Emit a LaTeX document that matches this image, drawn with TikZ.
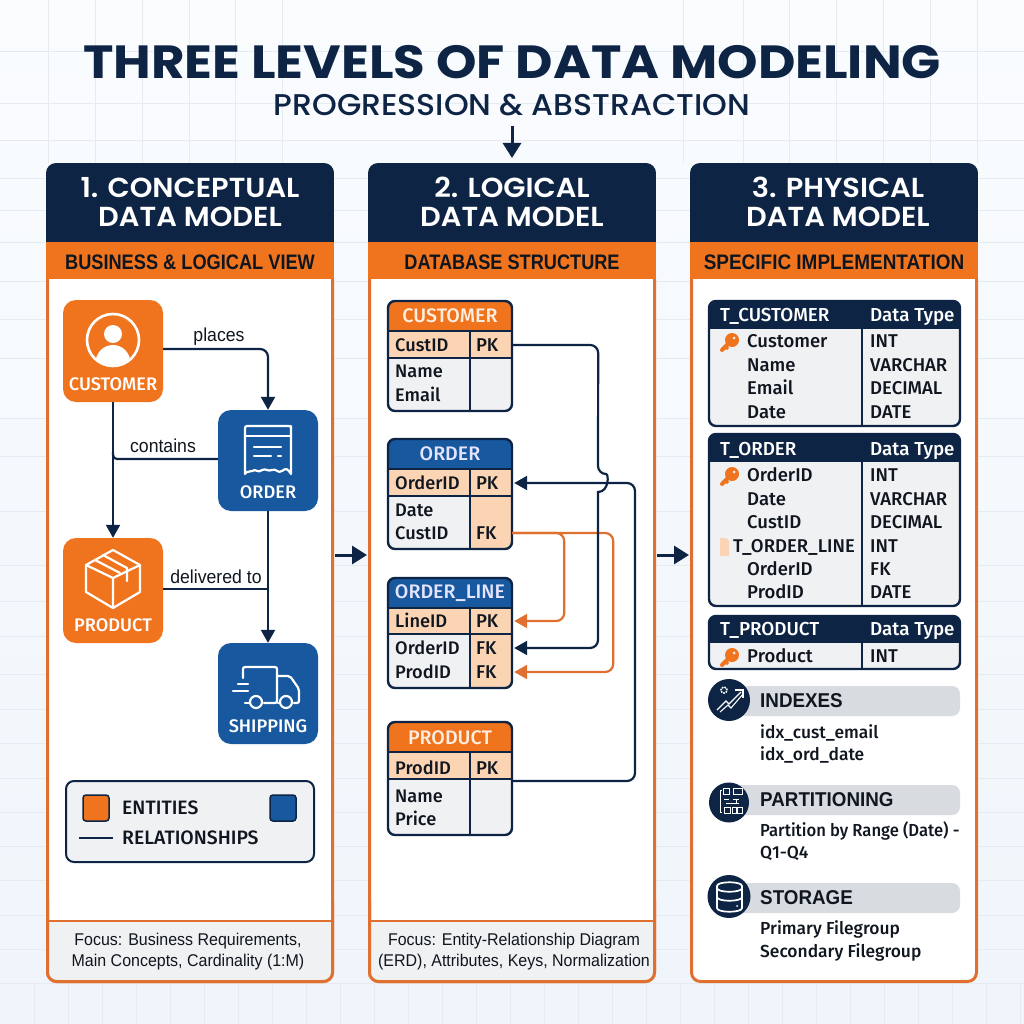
\documentclass[tikz,border=0pt]{standalone}
\usepackage{fontspec}
\setmainfont[FakeStretch=0.94]{Liberation Sans}
\newfontfamily\med[UprightFont=* Medium]{Fira Sans}
\newfontfamily\titlefont[FakeStretch=1.107]{Poppins}
\newfontfamily\subfont[UprightFont=* Medium,FakeStretch=1.05]{Poppins}
\newfontfamily\headfont[UprightFont=* SemiBold,FakeStretch=1.05]{Poppins}
\usetikzlibrary{arrows.meta,calc,shadings}
\definecolor{navy}{HTML}{0D2444}
\definecolor{ora}{HTML}{F0741E}
\definecolor{oraline}{HTML}{E07030}
\definecolor{blu}{HTML}{17589F}
\definecolor{peach}{HTML}{FBD4B4}
\definecolor{paper}{HTML}{F0F1F2}
\definecolor{pill}{HTML}{D8DCE0}
\definecolor{gridc}{HTML}{E6EBF2}
\definecolor{bgtop}{HTML}{FAFCFE}
\definecolor{bgbot}{HTML}{EFF5FB}
\definecolor{ink}{HTML}{10161F}
\newcommand{\kc}[1]{\makebox[36pt][l]{#1}}
\tikzset{
  x=1pt,y=-1pt,
  link/.style={draw=navy,line width=2.2pt,rounded corners=8pt},
  olink/.style={draw=oraline,line width=2.2pt,rounded corners=8pt},
  tip/.style={-{Triangle[length=13pt,width=14pt]}},
  bigarrow/.style={draw=navy,line width=3pt,-{Triangle[length=15pt,width=18pt]}},
  headtxt/.style={text=white,font=\headfont\fontsize{27.5}{29}\selectfont,align=center,inner sep=0pt},
  bandtxt/.style={text=ink,font=\fontsize{21}{22}\selectfont\bfseries,inner sep=0pt},
  foottxt/.style={text=ink,font=\fontsize{17}{21}\selectfont,align=center,inner sep=0pt},
  ent/.style={rounded corners=13pt,minimum width=100pt,inner sep=0pt},
  entlbl/.style={text=white,font=\med\fontsize{18.2}{20}\selectfont,inner sep=0pt},
  icon/.style={draw=white,line width=2.2pt,line join=round,line cap=round},
  fixline/.style={text height=17.6pt,text depth=4pt},
  rel/.style={text=ink,font=\fontsize{18.8}{20}\selectfont,inner sep=0pt,fixline},
  ttl/.style={font=\med\fontsize{19.6}{20}\selectfont,inner sep=0pt},
  cell/.style={text=ink,font=\med\fontsize{18.2}{23.5}\selectfont,inner sep=0pt,anchor=west,fixline},
  keycell/.style={text=ink,font=\med\fontsize{18.5}{20}\selectfont,inner sep=0pt,minimum width=42pt,anchor=center,fixline},
  phead/.style={text=white,font=\med\fontsize{18.8}{20}\selectfont,inner sep=0pt,anchor=west,fixline},
  pcell/.style={text=ink,font=\med\fontsize{18.5}{20}\selectfont,inner sep=0pt,anchor=west,fixline},
  sect/.style={text=ink,font=\fontsize{20}{22}\selectfont\bfseries,inner sep=0pt,anchor=west,fixline},
  sectbody/.style={text=ink,font=\med\fontsize{17.4}{22}\selectfont,inner sep=0pt,anchor=west,fixline},
  lgtxt/.style={text=ink,font=\med\fontsize{19.4}{20}\selectfont,inner sep=0pt,anchor=west},
}
\newcommand{\panelframe}[2]{%
  \fill[white,rounded corners=10pt] (#1,163) rectangle (#1+288,#2);
  \begin{scope}
    \clip[rounded corners=10pt] (#1,163) rectangle (#1+288,#2);
    \fill[navy] (#1,163) rectangle (#1+288,242);
    \fill[ora] (#1,242) rectangle (#1+288,279);
  \end{scope}
  \draw[oraline,line width=3pt,rounded corners=9pt] (#1+1.5,279) -- (#1+1.5,#2-1.5) -- (#1+286.5,#2-1.5) -- (#1+286.5,279);
}
\newcommand{\ltable}[7]{%
  \begin{scope}
    \clip[rounded corners=7pt] (388,#2) rectangle (512,#5);
    \fill[paper] (388,#2) rectangle (512,#5);
    \fill[#6] (388,#2) rectangle (512,#3);
    \fill[peach] (388,#3) rectangle (512,#4);
    \fill[#7] (470,#4) rectangle (512,#5);
  \end{scope}
  \draw[navy,line width=2pt] (388,#3) -- (512,#3) (388,#4) -- (512,#4) (470,#3) -- (470,#5);
  \draw[navy,line width=2.4pt,rounded corners=7pt] (388,#2) rectangle (512,#5);
}
\newcommand{\ptable}[3]{%
  \begin{scope}
    \clip[rounded corners=7pt] (709,#1) rectangle (960,#3);
    \fill[paper] (709,#1) rectangle (960,#3);
    \fill[navy] (709,#1) rectangle (960,#2);
  \end{scope}
  \draw[navy,line width=1.5pt] (862,#1) -- (862,#3);
  \draw[navy,line width=2.4pt,rounded corners=7pt] (709,#1) rectangle (960,#3);
}
\newcommand{\keyicon}[1]{%
  \begin{scope}[shift={(729,#1)}]
    \draw[ora,line width=4pt,line cap=round] (1,1) -- (-7,9);
    \draw[ora,line width=3pt] (-4,5) -- (-1,8);
    \fill[ora] (3,-1) circle (7pt);
    \fill[paper] (5,-3) circle (1.5pt);
  \end{scope}
}
\begin{document}
\begin{tikzpicture}
\useasboundingbox (0,0) rectangle (1024,1024);
\shade[top color=bgtop,bottom color=bgbot] (0,0) rectangle (1024,1024);
\foreach \g in {51,103,140,178,210,242,281,319,358,418,456,511,565,601,636,674,709,743,778,812,846,880,915,949,983}{
  \draw[gridc,line width=.8pt] (0,\g) -- (1024,\g);
}
\foreach \g in {48,95,142,189,235,282,683,743,789,836,883,930,977}{
  \draw[gridc,line width=.8pt] (\g,0) -- (\g,163);
}
\foreach \g in {34,68,...,1020}{
  \draw[gridc,line width=.8pt] (\g,983) -- (\g,1024);
}
% title
\node[inner sep=0pt,text=navy] (title) at (512,62) {\titlefont\fontsize{46.5}{50}\selectfont\bfseries THREE LEVELS OF DATA MODELING};
\node[inner sep=0pt,text=navy] (subtitle) at (512,105) {\subfont\fontsize{30}{32}\selectfont PROGRESSION \& ABSTRACTION};
\coordinate (arrtop) at (512,126);
\coordinate (arrbot) at (512,158);
\draw[bigarrow] (arrtop) -- (arrbot);

% panels
\panelframe{46}{983}
\panelframe{368}{983}
\panelframe{690}{983}
\begin{scope}
  \clip[rounded corners=9pt] (46,900) rectangle (334,983);
  \fill[paper] (47,921) rectangle (333,982);
\end{scope}
\begin{scope}
  \clip[rounded corners=9pt] (368,900) rectangle (656,983);
  \fill[paper] (369,921) rectangle (655,982);
\end{scope}
\draw[oraline,line width=3pt,rounded corners=9pt] (47.5,900) -- (47.5,981.5) -- (332.5,981.5) -- (332.5,900);
\draw[oraline,line width=3pt,rounded corners=9pt] (369.5,900) -- (369.5,981.5) -- (654.5,981.5) -- (654.5,900);
\draw[oraline,line width=2.4pt] (46,921) -- (334,921) (368,921) -- (656,921);

\node[headtxt] (h1) at (190,202) {1. CONCEPTUAL\\DATA MODEL};
\node[headtxt] (h2) at (512,202) {2. LOGICAL\\DATA MODEL};
\node[headtxt] (h3) at (838,202) {3. PHYSICAL\\DATA MODEL};
\node[bandtxt] (b1) at (190,262) {\scalebox{.922}[1]{BUSINESS \& LOGICAL VIEW}};
\node[bandtxt] (b2) at (512,262) {\scalebox{.92}[1]{DATABASE STRUCTURE}};
\node[bandtxt] (b3) at (834,262) {\scalebox{.96}[1]{SPECIFIC IMPLEMENTATION}};
\node[foottxt] (f1) at (188,952) {Focus: Business Requirements,\\Main Concepts, Cardinality (1:M)};
\node[foottxt] (f2) at (514,952) {Focus: Entity-Relationship Diagram\\(ERD), Attributes, Keys, Normalization};

% panel arrows
\coordinate (a1s) at (335,555); \coordinate (a1e) at (367,555);
\coordinate (a2s) at (657,555); \coordinate (a2e) at (689,555);
\draw[bigarrow] (a1s) -- (a1e);
\draw[bigarrow] (a2s) -- (a2e);

% ---- conceptual
\node[ent,fill=ora,minimum height=102pt] (customer) at (113,351) {};
\node[ent,fill=blu,minimum height=101pt] (order) at (268,460.5) {};
\node[ent,fill=ora,minimum height=105pt] (product) at (113,590.5) {};
\node[ent,fill=blu,minimum height=101pt] (shipping) at (268,693.5) {};
\node[entlbl] (lc) at (113,384) {CUSTOMER};
\node[entlbl] (lo) at (268,492) {ORDER};
\node[entlbl] (lp) at (113,625) {PRODUCT};
\node[entlbl] (ls) at (268,726) {SHIPPING};

\draw[link,tip] ($(customer.east)+(0,-2)$) -| (order.north);
\draw[link,tip] (customer.south) -- (product.north);
\draw[link,rounded corners=4pt] ($(order.west)+(0,-1.5)$) -| ($(customer.south)+(0,50)$);
\draw[link,rounded corners=0pt] ($(product.east)+(0,-1.5)$) -| (order.south);
\draw[link,tip,rounded corners=0pt] (order.south) -- (shipping.north);
\node[rel] (r1) at (219,335) {places};
\node[rel] (r2) at (163,446) {contains};
\node[rel] (r3) at (216,577) {delivered to};

% customer icon
\draw[icon,line width=2.6pt] (113,340) circle (26pt);
\fill[white] (113,334) circle (9pt);
\begin{scope}
  \clip (113,340) circle (25pt);
  \fill[white] (95,366) .. controls (95,338) and (131,338) .. (131,366) -- cycle;
\end{scope}
% order icon
\draw[icon] (245,474) -- (245,428) [rounded corners=2pt] -- (245,426) -- (291,426) -- (291,428) [sharp corners] -- (291,474) .. controls (287,468) and (286,468) .. (282,471) .. controls (278,474) and (276,468) .. (272,470) .. controls (268,472) and (266,468) .. (262,470) .. controls (258,474) and (256,468) .. (252,471) .. controls (249,473) and (247,470) .. (245,474) -- cycle;
\draw[icon] (245,436) -- (291,436);
\draw[icon] (254,447) -- (281,447) (254,456) -- (271,456) (278,456) -- (281,456);
% product icon
\draw[icon] (113,550) -- (140,565) -- (140,592) -- (113,608) -- (86,592) -- (86,565) -- cycle;
\draw[icon] (86,565) -- (113,578) -- (140,565) (113,578) -- (113,608);
\draw[icon] (95,560) -- (120,573) (103,555) -- (127,568) -- (127,581);
% shipping icon
\draw[icon,rounded corners=2pt] (243,678) -- (243,667) -- (277,667) -- (277,703) -- (264,703);
\draw[icon,rounded corners=2pt] (277,676) -- (290,676) -- (299,689) -- (299,703) -- (294,703);
\draw[icon] (249,703) -- (245,703) (280,703) -- (278,703);
\draw[icon] (256,702) circle (6pt) (286,702) circle (6pt);
\draw[icon] (238,684) -- (248,684) (233,691) -- (248,691);

% legend
\node[fill=paper,draw=navy,line width=2pt,rounded corners=8pt,minimum width=248pt,minimum height=81pt,inner sep=0pt] (legend) at (190,821.5) {};
\node[fill=ora,draw=navy,line width=1.5pt,rounded corners=3pt,minimum size=26pt,inner sep=0pt] (lgo) at (96,808) {};
\node[fill=blu,draw=navy,line width=1.5pt,rounded corners=3pt,minimum size=26pt,inner sep=0pt] (lgb) at (283,808) {};
\node[lgtxt] (lge) at (122,808) {ENTITIES};
\node[lgtxt] (lgr) at (122,838) {RELATIONSHIPS};
\coordinate (lgl) at (79,838); \coordinate (lgr2) at (113,838);
\draw[navy,line width=2pt] (lgl) -- (lgr2);

% ---- logical
\ltable{c}{301}{331}{358}{411}{ora}{paper}
\ltable{o}{439}{469}{496}{549}{blu}{peach}
\ltable{l}{578}{608}{634}{688}{blu}{peach}
\ltable{p}{722}{752}{779}{835}{ora}{paper}
\node[ttl,text=peach!40!white] (tc) at (450,316) {CUSTOMER};
\node[ttl,text=blue!10!white] (to) at (450,454) {ORDER};
\node[ttl,text=blue!10!white] (tl) at (450,593) {ORDER\_LINE};
\node[ttl,text=peach!40!white] (tp) at (450,738) {PRODUCT};
\node[cell] (c1) at (395,345) {CustID};
\node[keycell] (cpk) at (491,345) {\kc{\hspace{3pt}PK}};
\node[cell] (c2) at (395,371) {Name};
\node[cell] (c3) at (395,395) {Email};
\node[cell] (o1) at (395,483) {OrderID};
\node[keycell] (opk) at (491,483) {\kc{\hspace{3pt}PK}};
\node[cell] (o2) at (395,510) {Date};
\node[cell] (o3) at (395,533) {CustID};
\node[keycell] (ofk) at (491,533) {\kc{\hspace{3pt}FK}};
\node[cell] (l1) at (395,621) {LineID};
\node[keycell] (lpk) at (491,621) {\kc{\hspace{3pt}PK}};
\node[cell] (l2) at (395,648) {OrderID};
\node[keycell] (lf1) at (491,648) {\kc{\hspace{3pt}FK}};
\node[cell] (l3) at (395,672) {ProdID};
\node[keycell] (lf2) at (491,672) {\kc{\hspace{3pt}FK}};
\node[cell] (p1) at (395,768) {ProdID};
\node[keycell] (ppk) at (491,768) {\kc{\hspace{3pt}PK}};
\node[cell] (p2) at (395,796) {Name};
\node[cell] (p3) at (395,819) {Price};
\coordinate (pout) at (512,781);
% connectors
\draw[olink,tip] (ofk.east) -- ++(52,0) |- ($(lpk.east)+(2,0)$);
\draw[olink,tip] (ofk.east) -- ++(101,0) |- ($(lf2.east)+(2,0)$);
\draw[link,tip] (pout) -- ++(123,0) |- ($(opk.east)+(2,0)$);
\draw[link,tip] (cpk.east) -- ++(86,0) -- (598,474) [rounded corners=0pt] .. controls (609,474) and (609,492) .. (598,492) [rounded corners=8pt] -- (598,648) -- ($(lf1.east)+(2,0)$);

% ---- physical
\ptable{301}{329}{426}
\ptable{434}{462}{606}
\ptable{616}{643}{669}
\node[phead] (t1) at (720,315) {T\_CUSTOMER};
\node[phead] (t1d) at (870,315) {Data Type};
\node[phead] (t2) at (720,449) {T\_ORDER};
\node[phead] (t2d) at (870,449) {Data Type};
\node[phead] (t3) at (720,629) {T\_PRODUCT};
\node[phead] (t3d) at (870,629) {Data Type};
\keyicon{341}\keyicon{475}\keyicon{656}
\fill[peach] (720,538) -- (726,538) -- (729,541) -- (729,556) -- (720,556) -- cycle;
\foreach \n/\y/\a/\b in {a1/341/Customer/INT,a2/365/Name/VARCHAR,a3/388/Email/DECIMAL,a4/412/Date/DATE,
  b1/475/OrderID/INT,b2/499/Date/VARCHAR,b3/522/CustID/DECIMAL,b5/569/OrderID/FK,b6/592/ProdID/DATE,d1/656/Product/INT}{
  \node[pcell] (n\n) at (747,\y) {\a};
  \node[pcell] (v\n) at (870,\y) {\b};
}
\node[pcell] (nb4) at (733,546) {T\_ORDER\_LINE};
\node[pcell] (vb4) at (870,546) {INT};

% sections
\fill[pill,rounded corners=8pt] (729,686) rectangle (960,716);
\fill[pill,rounded corners=8pt] (729,785) rectangle (960,815);
\fill[pill,rounded corners=8pt] (729,883) rectangle (960,913);
\fill[navy] (729,700) circle (21pt) (729,802.5) circle (20pt) (729,896.5) circle (21.5pt);
\node[sect] (s1) at (760,701) {INDEXES};
\node[sect] (s2) at (760,800) {PARTITIONING};
\node[sect] (s3) at (760,898) {STORAGE};
\node[sectbody] (s1a) at (760,732) {idx\_cust\_email};
\node[sectbody] (s1b) at (760,754) {idx\_ord\_date};
\node[sectbody] (s2a) at (760,830) {\scalebox{.955}[1]{Partition by Range (Date) -}};
\node[sectbody] (s2b) at (760,852) {Q1-Q4};
\node[sectbody] (s3a) at (760,928) {Primary Filegroup};
\node[sectbody] (s3b) at (760,951) {Secondary Filegroup};
% indexes icon
\draw[white,line width=1.1pt] (717,710) -- (726,701) -- (729,704) -- (741,692);
\draw[white,line width=1.1pt] (720,712) -- (728,705) -- (731,708) -- (743,694);
\draw[white,line width=1.1pt] (735,690) -- (743,690) -- (743,698);
\draw[white,line width=1.6pt,densely dotted] (724,690) circle (3pt);
% partition icon
\draw[white,line width=.9pt] (722,790) -- (720,790) -- (720,812) -- (722,812);
\draw[white,line width=.9pt] (723,788) rectangle (729,794) (733,788) rectangle (742,794) (724,807) rectangle (730,813) (732,807) rectangle (736,813) (737.5,807) rectangle (742,813);
\draw[white,line width=.9pt] (724,799) -- (729,799) (733,799) -- (739,799) (736,799) -- (736,803) (726,803) -- (739,803);
% storage icon
\draw[white,line width=1.7pt] (717,886) .. controls (717,881) and (742,881) .. (742,886) -- (742,908) .. controls (742,913) and (717,913) .. (717,908) -- cycle;
\draw[white,line width=1.7pt] (717,888) .. controls (717,893) and (742,893) .. (742,888);
\draw[white,line width=1.7pt] (717,897) .. controls (717,902) and (742,902) .. (742,897);
\fill[white] (737,906) circle (1pt);
\end{tikzpicture}
\end{document}
